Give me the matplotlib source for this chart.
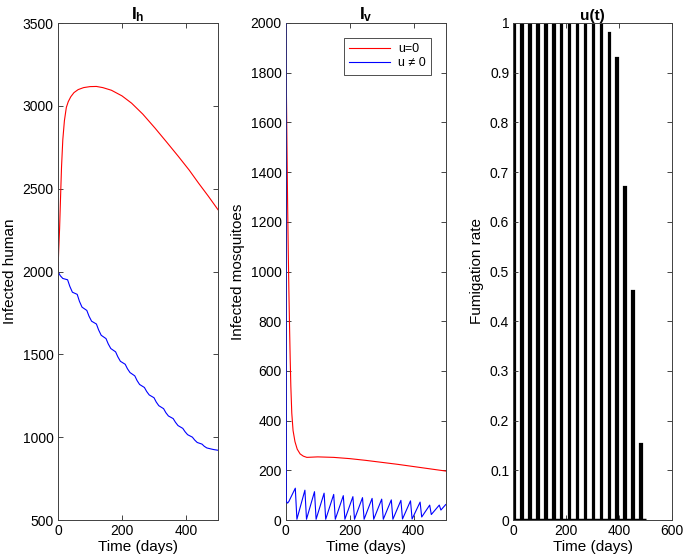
import matplotlib
matplotlib.use("Agg")
import matplotlib.pyplot as plt

plt.rcParams['font.family'] = ['Liberation Sans', 'DejaVu Sans']
plt.rcParams['mathtext.fontset'] = 'custom'
plt.rcParams['mathtext.rm'] = 'Liberation Sans'
plt.rcParams['mathtext.bf'] = 'Liberation Sans:bold'
plt.rcParams['mathtext.it'] = 'Liberation Sans:italic'

# ---------------- data ----------------
# Infected humans, u = 0
ih_u0_t = [0, 2, 5, 8, 11, 15, 20, 26, 32, 40, 50, 63, 80, 100, 120, 140, 167,
           200, 230, 265, 303, 340, 376, 410, 439, 470, 500]
ih_u0_v = [2000, 2120, 2260, 2450, 2630, 2795, 2910, 2990, 3025, 3055, 3080, 3098,
           3110, 3116, 3117, 3110, 3094, 3060, 3016, 2950, 2866, 2780, 2695, 2612,
           2534, 2454, 2373]
# Infected humans, u != 0
ih_u1_t = [0, 7, 15, 30, 37, 45, 60, 67, 75, 90, 97, 105, 120, 127, 135, 150, 157,
           165, 180, 187, 195, 210, 217, 225, 240, 247, 255, 270, 277, 285, 300,
           307, 315, 330, 337, 345, 360, 367, 375, 390, 397, 405, 420, 427, 435,
           450, 457, 465, 480, 487, 500]
ih_u1_v = [2000, 1975, 1958, 1950, 1910, 1875, 1862, 1820, 1785, 1765, 1730, 1700,
           1683, 1647, 1615, 1595, 1563, 1535, 1515, 1485, 1458, 1440, 1413, 1390,
           1370, 1342, 1318, 1300, 1276, 1255, 1238, 1212, 1190, 1172, 1148, 1128,
           1112, 1090, 1070, 1053, 1033, 1015, 1000, 983, 968, 958, 945, 935, 928,
           925, 921]
# Infected mosquitoes, u = 0
iv_u0_t = [0, 2, 4, 6, 8, 10, 12, 14, 16, 19, 23, 29, 36, 45, 55, 66, 100, 150,
           200, 250, 300, 350, 400, 450, 500]
iv_u0_v = [2000, 1750, 1500, 1270, 1080, 920, 780, 650, 540, 430, 360, 315, 285,
           266, 257, 252, 254, 252, 247, 240, 232, 224, 215, 206, 197]
# Infected mosquitoes, u != 0
iv_u1_t = [0, 1.5, 6, 10, 30, 35, 60, 65, 90, 95, 120, 125, 150, 155, 180, 185, 210,
           215, 240, 245, 270, 275, 300, 305, 330, 335, 360, 365, 390, 395, 420,
           425, 450, 455, 480, 485, 500]
iv_u1_v = [2000, 75, 68, 75, 128, 3, 120, 3, 114, 3, 108, 3, 103, 3, 98, 3, 94, 3,
           90, 3, 87, 3, 84, 3, 81, 3, 79, 4, 77, 4, 72, 12, 60, 22, 60, 40, 62]
# Fumigation pulses
pulse_t = [0, 30, 60, 90, 120, 150, 180, 210, 240, 270, 300, 330, 360, 390, 420,
           450, 480]
pulse_u = [1, 1, 1, 1, 1, 1, 1, 1, 1, 1, 1, 1, 0.98, 0.93, 0.67, 0.46, 0.153]
pulse_width = 6
u_base_t = [0, 500]
u_base_v = [0, 0]

# ---------------- figure ----------------
W, H = 685, 559
fig = plt.figure(figsize=(W / 100, H / 100), dpi=100)

def add_ax(left_px, right_px):
    return fig.add_axes([left_px / W, 1 - 520 / H, (right_px - left_px) / W,
                         (520 - 23) / H])

ax1 = add_ax(58, 218)
ax2 = add_ax(285.7, 445.7)
ax3 = add_ax(513.3, 672)

spine_col = '#404040'
for ax in (ax1, ax2, ax3):
    for s in ax.spines.values():
        s.set_color(spine_col)
        s.set_linewidth(0.7)
    ax.tick_params(direction='in', length=3.5, width=0.6, colors='#262626',
                   top=True, right=True, labelsize=10, pad=3)
    for lab in ax.get_xticklabels() + ax.get_yticklabels():
        lab.set_color('black')

red = '#ff0000'
blue = '#0000ff'
lw = 0.8

# Panel 1
ax1.plot(ih_u0_t, ih_u0_v, color=red, lw=lw)
ax1.plot(ih_u1_t, ih_u1_v, color=blue, lw=lw)
ax1.set_xlim(0, 500)
ax1.set_ylim(500, 3500)
ax1.set_xticks([0, 200, 400])
ax1.set_yticks([500, 1000, 1500, 2000, 2500, 3000, 3500])
ax1.set_xlabel('Time (days)', fontsize=11, labelpad=1)
ax1.set_ylabel('Infected human', fontsize=11, labelpad=4)
ax1.set_title(r'$\mathbf{I_h}$', fontsize=12.5, pad=3)

# Panel 2
ax2.plot(iv_u0_t, iv_u0_v, color=red, lw=lw, label='u=0')
ax2.plot(iv_u1_t, iv_u1_v, color=blue, lw=lw, label='u \u2260 0', zorder=3)
ax2.set_xlim(0, 500)
ax2.set_ylim(0, 2000)
ax2.set_xticks([0, 200, 400])
ax2.set_yticks(list(range(0, 2001, 200)))
ax2.set_xlabel('Time (days)', fontsize=11, labelpad=1)
ax2.set_ylabel('Infected mosquitoes', fontsize=11, labelpad=4)
ax2.set_title(r'$\mathbf{I_v}$', fontsize=12.5, pad=3)
leg = ax2.legend(loc='upper right', fontsize=9, handlelength=3.3,
                 borderaxespad=1.2, frameon=True, fancybox=False,
                 handletextpad=0.6, borderpad=0.4, labelspacing=0.2)
leg.get_frame().set_edgecolor('black')
leg.get_frame().set_linewidth(0.6)

# Panel 3
ax3.bar(pulse_t, pulse_u, width=pulse_width, align='edge', color='black',
        edgecolor='black', linewidth=1.6)
ax3.plot(u_base_t, u_base_v, color='black', lw=2.5, solid_capstyle='butt')
ax3.set_xlim(0, 600)
ax3.set_ylim(0, 1)
ax3.set_xticks([0, 200, 400, 600])
ax3.set_yticks([i / 10 for i in range(11)])
ax3.set_yticklabels(['0', '0.1', '0.2', '0.3', '0.4', '0.5', '0.6', '0.7',
                     '0.8', '0.9', '1'])
ax3.set_xlabel('Time (days)', fontsize=11, labelpad=1)
ax3.set_ylabel('Fumigation rate', fontsize=11, labelpad=4)
ax3.set_title('u(t)', fontsize=11, fontweight='bold', pad=2)

fig.savefig('out.png', dpi=100)
